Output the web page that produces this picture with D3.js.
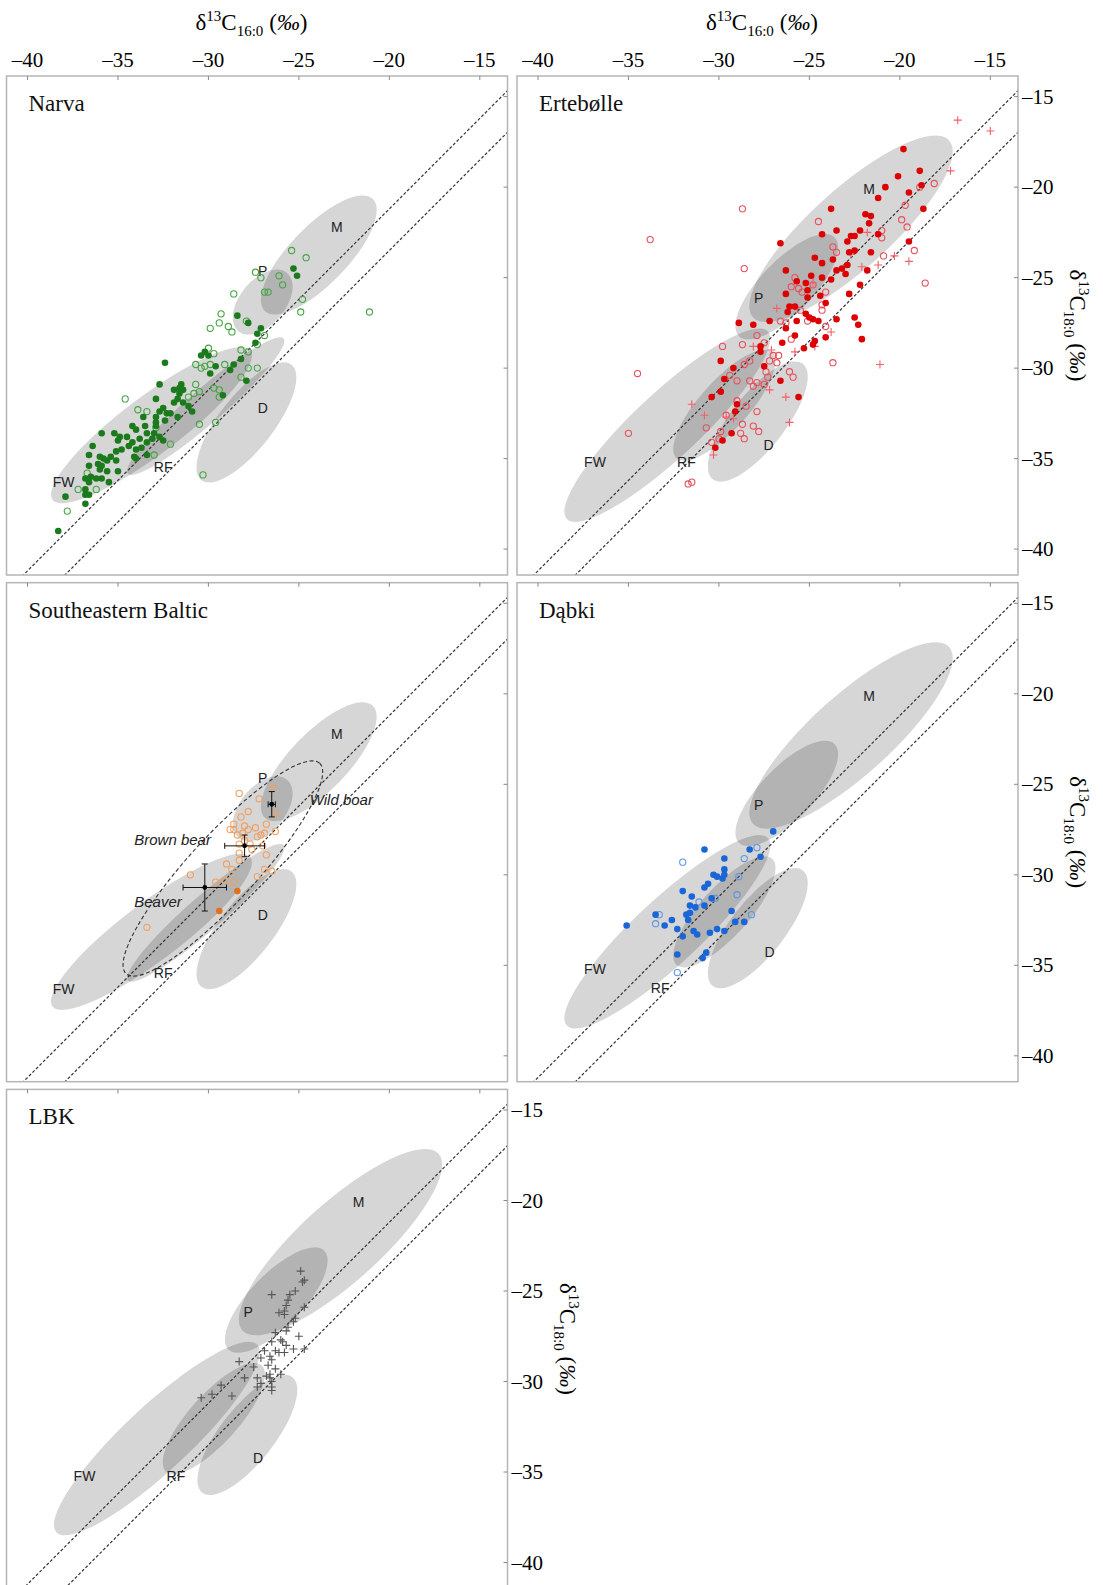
<!DOCTYPE html>
<html>
<head>
<meta charset="utf-8">
<script src="https://cdn.jsdelivr.net/npm/d3@7"></script>
<style>
body { margin: 0; background: #fff; }
</style>
</head>
<body>
<div id="chart"></div>
<script>
// ---- axis ticks and reference lines (delta13C offsets) ----
var xTicks = [-40, -35, -30, -25, -20, -15];
var yTicks = [-15, -20, -25, -30, -35, -40];
var fatLines = [-1.2, -3.5];

// reference ellipses: [label, cx, cy, semi-major, semi-minor, angle]
var ellipsesBaltic = [
  ["FW", -33.15, -33.15, 6.85, 1.6, 37],
  ["RF", -30.15, -32.1, 5.7, 0.95, 41],
  ["D", -27.9, -33.0, 4.05, 1.5, 52],
  ["P", -27.0, -26.35, 2.1, 1.25, 50],
  ["M", -23.9, -23.75, 4.3, 1.6, 46]
];
var ellipsesNW = [
  ["FW", -32.85, -33.15, 7.6, 1.8, 43],
  ["RF", -29.7, -32.05, 3.95, 1.35, 48],
  ["D", -27.85, -32.95, 4.05, 1.5, 52],
  ["P", -26.25, -25.5, 3.8, 1.45, 46],
  ["M", -22.7, -22.3, 7.3, 2.2, 42]
];
var labelsBaltic = [["M", -22.9, -22.2], ["P", -27.0, -24.65], ["FW", -38.0, -36.3], ["RF", -32.5, -35.45], ["D", -27.0, -32.2]];
var labelsNW = [["M", -21.7, -20.1], ["P", -27.8, -26.15], ["FW", -36.85, -35.2], ["RF", -31.8, -35.2], ["D", -27.25, -34.25]];
var labelsDabki = [["M", -21.7, -20.1], ["P", -27.8, -26.15], ["FW", -36.85, -35.2], ["RF", -33.25, -36.25], ["D", -27.2, -34.25]];

// ---- Narva ----
var narvaFilled = [[-28.4,-27.1],[-27.8,-27.5],[-27.1,-27.8],[-27.3,-28.1],[-27.4,-28.6],[-30.2,-29.1],[-30.4,-29.3],[-30.0,-29.3],[-29.6,-29.9],[-29.9,-30.3],[-28.8,-30.1],[-28.6,-29.8],[-28.2,-29.5],[-27.9,-30.7],[-29.2,-31.5],[-32.4,-29.7],[-32.7,-30.9],[-31.6,-31.1],[-31.4,-31.2],[-31.6,-31.4],[-31.7,-31.7],[-31.9,-31.9],[-31.4,-31.9],[-31.1,-32.1],[-30.9,-32.4],[-31.7,-32.7],[-32.5,-32.2],[-32.7,-32.4],[-32.9,-32.7],[-32.9,-33.0],[-32.4,-32.9],[-33.6,-32.7],[-33.5,-33.2],[-34.0,-33.4],[-34.2,-33.2],[-33.4,-33.6],[-33.0,-33.6],[-32.7,-33.8],[-32.5,-34.0],[-33.1,-33.9],[-33.4,-34.1],[-33.8,-33.9],[-34.2,-34.1],[-34.5,-33.8],[-34.4,-34.3],[-34.9,-33.8],[-35.2,-33.6],[-35.0,-34.0],[-34.8,-34.5],[-35.1,-34.6],[-35.4,-34.9],[-35.8,-35.0],[-35.6,-35.1],[-36.0,-34.9],[-36.6,-34.8],[-36.1,-35.3],[-35.9,-35.4],[-35.6,-35.7],[-35.1,-35.1],[-35.0,-35.7],[-35.5,-36.3],[-35.9,-36.1],[-36.0,-35.6],[-36.6,-35.4],[-36.5,-36.0],[-36.2,-36.1],[-36.6,-36.3],[-36.8,-36.1],[-36.8,-36.7],[-36.8,-37.0],[-36.6,-37.0],[-37.9,-37.1],[-36.8,-37.5],[-38.3,-39.0],[-35.9,-33.6],[-36.4,-34.3],[-34.0,-34.5],[-34.1,-34.9],[-33.7,-34.4],[-32.9,-33.2],[-32.3,-32.5],[-32.9,-31.7],[-31.9,-31.2],[-31.5,-30.9],[-32.1,-32.5],[-33.4,-34.8],[-34.0,-35.0],[-25.3,-24.5],[-25.1,-24.9]];
var narvaOpen = [[-29.3,-27.0],[-29.4,-27.5],[-29.9,-27.8],[-28.9,-27.7],[-28.7,-28.0],[-27.9,-27.4],[-26.9,-28.2],[-27.3,-28.7],[-30.0,-28.9],[-29.7,-29.2],[-30.7,-29.8],[-30.4,-30.0],[-30.2,-29.9],[-29.9,-29.8],[-29.1,-29.8],[-28.2,-29.0],[-27.8,-29.1],[-27.8,-30.0],[-27.3,-30.0],[-28.2,-30.5],[-30.7,-30.9],[-30.8,-31.4],[-31.1,-31.6],[-30.5,-31.3],[-29.4,-31.2],[-29.4,-31.6],[-29.7,-31.1],[-33.9,-32.3],[-33.4,-32.4],[-32.9,-33.3],[-30.5,-33.1],[-29.6,-33.0],[-32.1,-34.2],[-33.0,-34.8],[-34.6,-31.7],[-37.2,-36.7],[-36.2,-36.7],[-36.7,-35.8],[-37.8,-37.9],[-30.3,-35.9],[-25.4,-23.5],[-24.6,-23.9],[-27.4,-24.7],[-27.1,-25.0],[-26.1,-24.9],[-25.9,-25.4],[-26.9,-25.8],[-26.7,-25.8],[-28.6,-25.9],[-24.8,-26.2],[-24.9,-26.9],[-21.1,-26.9]];

// ---- Ertebolle ----
var erteFilled = [[-19.8,-17.9],[-20.1,-19.4],[-18.9,-19.1],[-18.8,-19.9],[-19.5,-20.3],[-20.8,-20.0],[-21.2,-20.6],[-18.7,-21.2],[-23.8,-21.2],[-21.9,-21.5],[-21.6,-21.6],[-21.7,-22.0],[-23.5,-22.4],[-24.3,-22.6],[-22.2,-22.4],[-22.5,-22.7],[-22.7,-22.7],[-22.9,-23.0],[-21.2,-22.6],[-19.5,-23.0],[-22.5,-23.5],[-22.8,-23.6],[-21.6,-23.6],[-24.7,-23.9],[-26.6,-23.1],[-24.3,-24.2],[-23.7,-24.0],[-22.9,-24.3],[-23.2,-24.5],[-23.5,-24.6],[-23.0,-24.8],[-21.8,-24.6],[-26.3,-24.6],[-23.8,-25.1],[-22.2,-25.4],[-22.8,-25.9],[-24.9,-24.9],[-25.2,-25.3],[-25.7,-25.2],[-24.3,-25.0],[-25.1,-25.7],[-24.4,-26.0],[-24.1,-26.4],[-26.3,-25.9],[-26.1,-26.6],[-25.8,-26.6],[-26.2,-26.9],[-25.1,-26.1],[-25.0,-27.2],[-25.2,-27.0],[-24.8,-27.3],[-24.5,-27.4],[-23.5,-27.3],[-22.5,-27.2],[-22.3,-27.6],[-25.7,-27.4],[-26.3,-27.8],[-27.2,-27.4],[-28.1,-27.6],[-28.9,-27.5],[-24.1,-28.3],[-25.8,-28.2],[-26.5,-28.6],[-27.7,-28.8],[-27.7,-29.1],[-27.5,-29.9],[-25.3,-28.9],[-24.8,-28.7],[-24.7,-28.5],[-29.9,-29.6],[-29.2,-30.0],[-29.7,-30.6],[-29.9,-31.3],[-30.4,-31.6],[-26.6,-30.7],[-25.6,-31.6],[-29.0,-32.0],[-29.1,-32.4],[-29.3,-33.6],[-29.8,-34.0],[-30.2,-34.4],[-22.1,-28.4]];
var erteOpen = [[-28.7,-21.2],[-33.8,-22.9],[-28.6,-24.5],[-24.5,-21.9],[-23.7,-23.3],[-23.5,-23.6],[-19.7,-21.0],[-18.9,-20.0],[-18.1,-19.8],[-19.9,-21.8],[-19.6,-22.2],[-21.0,-22.4],[-21.0,-22.8],[-20.9,-23.8],[-19.2,-23.5],[-18.6,-25.3],[-25.8,-25.0],[-25.6,-25.6],[-26.0,-25.5],[-25.4,-25.8],[-24.8,-25.4],[-24.1,-25.8],[-24.3,-26.5],[-24.3,-26.8],[-25.5,-26.8],[-25.1,-27.4],[-26.6,-27.4],[-26.3,-27.5],[-24.1,-27.7],[-29.8,-28.8],[-28.7,-28.7],[-27.9,-28.2],[-27.5,-28.6],[-27.0,-29.3],[-26.7,-29.3],[-26.8,-29.7],[-27.2,-29.6],[-28.3,-29.6],[-28.6,-29.8],[-29.0,-30.7],[-29.4,-30.4],[-27.4,-30.2],[-27.3,-30.5],[-27.5,-30.9],[-27.9,-30.8],[-28.3,-30.7],[-28.1,-31.0],[-26.1,-30.2],[-25.9,-30.5],[-23.7,-29.7],[-29.6,-32.6],[-29.0,-31.8],[-28.5,-32.1],[-27.9,-32.4],[-30.7,-33.3],[-29.9,-33.5],[-28.7,-33.1],[-28.1,-33.2],[-27.8,-33.5],[-28.6,-33.9],[-28.8,-33.6],[-30.4,-34.1],[-30.0,-33.9],[-34.5,-30.3],[-35.0,-33.6],[-31.7,-36.4],[-31.5,-36.3],[-26.0,-28.4]];
var ertePlus = [[-21.8,-22.5],[-22.7,-23.7],[-22.1,-24.4],[-21.2,-24.3],[-20.3,-23.8],[-19.5,-24.1],[-24.8,-25.3],[-26.8,-26.7],[-28.1,-28.8],[-27.1,-29.0],[-25.8,-29.1],[-24.7,-28.8],[-23.8,-28.0],[-31.5,-32.0],[-30.8,-32.6],[-29.6,-32.7],[-29.2,-32.8],[-27.2,-31.2],[-26.3,-31.6],[-26.1,-33.0],[-30.3,-34.8],[-16.8,-16.3],[-15.0,-16.9],[-17.2,-19.1],[-21.1,-29.8]];

// ---- Southeastern Baltic ----
var sebOpen = [[-28.3,-25.5],[-27.2,-25.8],[-26.4,-25.2],[-27.8,-26.5],[-26.3,-26.6],[-28.2,-26.8],[-28.6,-27.2],[-28.0,-27.3],[-28.8,-27.5],[-28.6,-27.5],[-27.8,-27.5],[-27.4,-27.4],[-26.8,-27.2],[-28.1,-27.7],[-28.4,-27.8],[-27.1,-27.8],[-27.3,-27.9],[-26.3,-27.6],[-26.9,-27.7],[-28.3,-28.3],[-28.0,-28.1],[-27.7,-28.3],[-27.0,-28.4],[-28.3,-28.8],[-26.8,-28.9],[-27.6,-28.6],[-29.0,-29.4],[-28.7,-29.7],[-28.3,-29.2],[-31.0,-30.0],[-29.6,-30.4],[-29.1,-30.3],[-28.6,-30.4],[-27.3,-30.1],[-26.9,-29.7],[-26.5,-29.8],[-33.4,-32.9]];
var sebFilled = [[-28.4,-30.9],[-29.4,-32.0]];
// [name, mean x, mean y, sd x, sd y]
var sebMeans = [["Wild boar", -26.5, -26.1, 0.2, 0.7], ["Brown bear", -28.0, -28.4, 1.1, 0.6], ["Beaver", -30.2, -30.7, 1.2, 1.3]];
var sebNotes = [["Wild boar", -24.4, -25.85], ["Brown bear", -34.1, -28.05], ["Beaver", -34.1, -31.5]];
var sebRange = [-29.2, -29.65, 7.9, 1.85, 47.4];

// ---- Dabki ----
var dabkiFilled = [[-27.0,-27.6],[-28.3,-28.6],[-30.8,-28.6],[-29.7,-29.1],[-27.7,-29.0],[-29.7,-29.7],[-29.7,-30.0],[-30.3,-30.0],[-30.1,-30.1],[-29.8,-30.2],[-30.6,-30.5],[-30.8,-30.7],[-32.0,-30.9],[-31.5,-31.2],[-30.4,-31.3],[-31.6,-31.7],[-30.8,-31.7],[-31.3,-31.8],[-31.6,-32.1],[-31.8,-32.2],[-33.5,-32.2],[-29.3,-32.0],[-31.7,-32.5],[-32.6,-32.5],[-33.0,-32.8],[-35.1,-32.8],[-29.1,-32.6],[-28.6,-32.6],[-32.3,-33.0],[-31.4,-33.1],[-31.2,-33.3],[-32.0,-33.4],[-30.5,-33.2],[-30.1,-33.0],[-29.7,-33.1],[-32.3,-34.4],[-30.7,-34.3],[-30.9,-34.6]];
var dabkiOpen = [[-32.0,-29.3],[-27.9,-28.5],[-28.6,-29.1],[-28.9,-30.1],[-31.1,-31.5],[-30.2,-31.3],[-29.0,-31.1],[-33.3,-32.2],[-33.5,-32.7],[-28.2,-32.2],[-32.3,-35.4]];

// ---- LBK ----
var lbkPlus = [[-24.9,-23.9],[-24.7,-24.4],[-24.8,-24.5],[-25.2,-25.0],[-25.5,-25.2],[-26.5,-25.2],[-25.6,-25.5],[-25.7,-25.8],[-25.8,-26.1],[-26.1,-26.2],[-25.8,-26.3],[-24.7,-25.9],[-25.2,-26.5],[-25.3,-26.7],[-25.6,-27.0],[-25.7,-27.2],[-26.3,-27.3],[-26.0,-27.7],[-25.0,-27.5],[-26.5,-27.8],[-25.9,-27.8],[-25.7,-28.0],[-25.3,-28.2],[-24.7,-28.2],[-26.9,-28.3],[-26.3,-28.3],[-26.1,-28.4],[-25.8,-28.4],[-26.6,-28.6],[-27.1,-28.7],[-26.5,-28.8],[-27.5,-29.2],[-26.7,-29.1],[-28.3,-28.9],[-26.3,-29.3],[-26.0,-29.6],[-28.0,-29.8],[-27.3,-29.8],[-26.8,-29.7],[-26.6,-29.8],[-26.5,-30.0],[-27.1,-30.1],[-27.3,-30.3],[-26.5,-30.3],[-29.3,-30.2],[-29.8,-30.7],[-30.4,-30.9],[-28.7,-30.8],[-26.5,-30.5],[-26.6,-29.6]];

// ---- layout ----
var width = 1103, height = 1585;
var W = 501, H = 499;
var colX = [6.5, 517];
var rowY = [76, 582.7, 1089.4];
var serif = "'Liberation Serif', 'Times New Roman', serif";
var sans = "'Liberation Sans', Arial, sans-serif";

var svg = d3.select("#chart").append("svg").attr("width", width).attr("height", height);

var x = d3.scaleLinear().domain([-41.16, -13.47]).range([0, W]);
var y = d3.scaleLinear().domain([-41.43, -13.86]).range([H, 0]);

var panels = [
  {key: "narva", name: "Narva", col: 0, row: 0, ell: ellipsesBaltic, labels: labelsBaltic, top: true,
   series: [{d: narvaOpen, t: "open", c: "#45a545"}, {d: narvaFilled, t: "filled", c: "#1b7a1b"}]},
  {key: "erte", name: "Ertebølle", col: 1, row: 0, ell: ellipsesNW, labels: labelsNW, top: true, right: true,
   series: [{d: erteOpen, t: "open", c: "#e8505c"}, {d: ertePlus, t: "plus", c: "#f0606c"}, {d: erteFilled, t: "filled", c: "#dd0000"}]},
  {key: "seb", name: "Southeastern Baltic", col: 0, row: 1, ell: ellipsesBaltic, labels: labelsBaltic,
   series: [{d: sebOpen, t: "open", c: "#f0a060"}, {d: sebFilled, t: "filled", c: "#e2711d"}]},
  {key: "dabki", name: "Dąbki", col: 1, row: 1, ell: ellipsesNW, labels: labelsDabki, right: true,
   series: [{d: dabkiOpen, t: "open", c: "#5b97e2"}, {d: dabkiFilled, t: "filled", c: "#1a66d6"}]},
  {key: "lbk", name: "LBK", col: 0, row: 2, ell: ellipsesNW, labels: labelsNW, right: true,
   series: [{d: lbkPlus, t: "plus", c: "#555"}]}
];

function ellipseAttrs(sel) {
  sel.attr("cx", 0).attr("cy", 0)
    .attr("rx", d => x(d[1] + d[3]) - x(d[1]))
    .attr("ry", d => y(d[2]) - y(d[2] + d[4]))
    .attr("transform", d => `translate(${x(d[1])},${y(d[2])}) rotate(${-d[5]})`);
}

function axisTitle(sel, sub) {
  sel.append("tspan").text("δ");
  sel.append("tspan").attr("font-size", 15).attr("dy", -9).text("13");
  sel.append("tspan").attr("dy", 9).text("C");
  sel.append("tspan").attr("font-size", 15).attr("dy", 6).text(sub);
  sel.append("tspan").attr("dy", -6).text(" (");
  sel.append("tspan").attr("font-style", "italic").text("‰");
  sel.append("tspan").text(")");
}

var line = d3.line().x(d => x(d[0])).y(d => y(d[1]));

panels.forEach(function(p) {
  var g = svg.append("g").attr("transform", `translate(${colX[p.col]},${rowY[p.row]})`);
  g.append("clipPath").attr("id", "clip-" + p.key).append("rect").attr("width", W).attr("height", H);
  var plot = g.append("g").attr("clip-path", `url(#clip-${p.key})`);

  plot.selectAll("ellipse.ref").data(p.ell).join("ellipse").attr("class", "ref")
    .call(ellipseAttrs)
    .attr("fill", "#000").attr("fill-opacity", 0.16);

  fatLines.forEach(function(o) {
    plot.append("path").datum([[-45, -45 + o], [-10, -10 + o]]).attr("d", line)
      .attr("fill", "none").attr("stroke", "#333").attr("stroke-width", 1.2).attr("stroke-dasharray", "3,2");
  });

  plot.selectAll("text.elab").data(p.labels).join("text").attr("class", "elab")
    .attr("x", d => x(d[1])).attr("y", d => y(d[2]))
    .attr("text-anchor", "middle").attr("dominant-baseline", "central")
    .attr("font-family", sans).attr("font-size", 14).attr("fill", "#222")
    .text(d => d[0]);

  if (p.key === "seb") {
    plot.append("ellipse").datum(sebRange)
      .attr("cx", 0).attr("cy", 0)
      .attr("rx", d => x(d[0] + d[2]) - x(d[0]))
      .attr("ry", d => y(d[1]) - y(d[1] + d[3]))
      .attr("transform", d => `translate(${x(d[0])},${y(d[1])}) rotate(${-d[4]})`)
      .attr("fill", "none").attr("stroke", "#333").attr("stroke-width", 1.1).attr("stroke-dasharray", "4,2.5");
  }

  p.series.forEach(function(s) {
    if (s.t === "plus") {
      plot.selectAll(null).data(s.d).join("path")
        .attr("d", d => `M${x(d[0]) - 4},${y(d[1])}h8M${x(d[0])},${y(d[1]) - 4}v8`)
        .attr("stroke", s.c).attr("stroke-width", 1.1).attr("fill", "none");
    } else {
      plot.selectAll(null).data(s.d).join("circle")
        .attr("cx", d => x(d[0])).attr("cy", d => y(d[1]))
        .attr("r", s.t === "open" ? 3.1 : 3.3)
        .attr("fill", s.t === "open" ? "none" : s.c)
        .attr("stroke", s.t === "open" ? s.c : "none")
        .attr("stroke-width", 1.1);
    }
  });

  if (p.key === "seb") {
    var m = plot.selectAll("g.mean").data(sebMeans).join("g").attr("class", "mean");
    m.append("path")
      .attr("d", d => {
        var cx = x(d[1]), cy = y(d[2]);
        var x0 = x(d[1] - d[3]), x1 = x(d[1] + d[3]);
        var y0 = y(d[2] - d[4]), y1 = y(d[2] + d[4]);
        return `M${x0},${cy}H${x1}M${x0},${cy - 3}v6M${x1},${cy - 3}v6` +
               `M${cx},${y0}V${y1}M${cx - 3},${y0}h6M${cx - 3},${y1}h6`;
      })
      .attr("stroke", "#111").attr("stroke-width", 1).attr("fill", "none");
    m.append("circle").attr("cx", d => x(d[1])).attr("cy", d => y(d[2])).attr("r", 2.4).attr("fill", "#000");
    plot.selectAll("text.note").data(sebNotes).join("text").attr("class", "note")
      .attr("x", d => x(d[1])).attr("y", d => y(d[2]))
      .attr("dominant-baseline", "central")
      .attr("font-family", sans).attr("font-style", "italic").attr("font-size", 15).attr("fill", "#222")
      .text(d => d[0]);
  }

  // frame and inward ticks
  g.append("rect").attr("width", W).attr("height", H)
    .attr("fill", "none").attr("stroke", "#b5b5b5").attr("stroke-width", 1.5);
  g.selectAll("line.xt").data(xTicks).join("line").attr("class", "xt")
    .attr("x1", d => x(d)).attr("x2", d => x(d)).attr("y1", 0).attr("y2", 4)
    .attr("stroke", "#888");
  g.selectAll("line.yt").data(yTicks).join("line").attr("class", "yt")
    .attr("x1", W).attr("x2", W - 4).attr("y1", d => y(d)).attr("y2", d => y(d))
    .attr("stroke", "#888");

  g.append("text").attr("x", 22).attr("y", 35)
    .attr("font-family", serif).attr("font-size", 23).attr("fill", "#111")
    .text(p.name);

  if (p.top) {
    g.selectAll("text.xl").data(xTicks).join("text").attr("class", "xl")
      .attr("x", d => x(d)).attr("y", -9)
      .attr("text-anchor", "middle").attr("font-family", serif).attr("font-size", 21)
      .text(d => "\u2013" + Math.abs(d));
    g.append("text").attr("x", 245).attr("y", -46)
      .attr("text-anchor", "middle").attr("font-family", serif).attr("font-size", 23)
      .call(axisTitle, "16:0");
  }
  if (p.right) {
    g.selectAll("text.yl").data(yTicks).join("text").attr("class", "yl")
      .attr("x", W + 4).attr("y", d => y(d))
      .attr("dominant-baseline", "central").attr("font-family", serif).attr("font-size", 21)
      .text(d => "\u2013" + Math.abs(d));
    g.append("text")
      .attr("transform", `translate(${W + 52},${H / 2}) rotate(90)`)
      .attr("text-anchor", "middle").attr("font-family", serif).attr("font-size", 23)
      .call(axisTitle, "18:0");
  }
});
</script>
</body>
</html>
